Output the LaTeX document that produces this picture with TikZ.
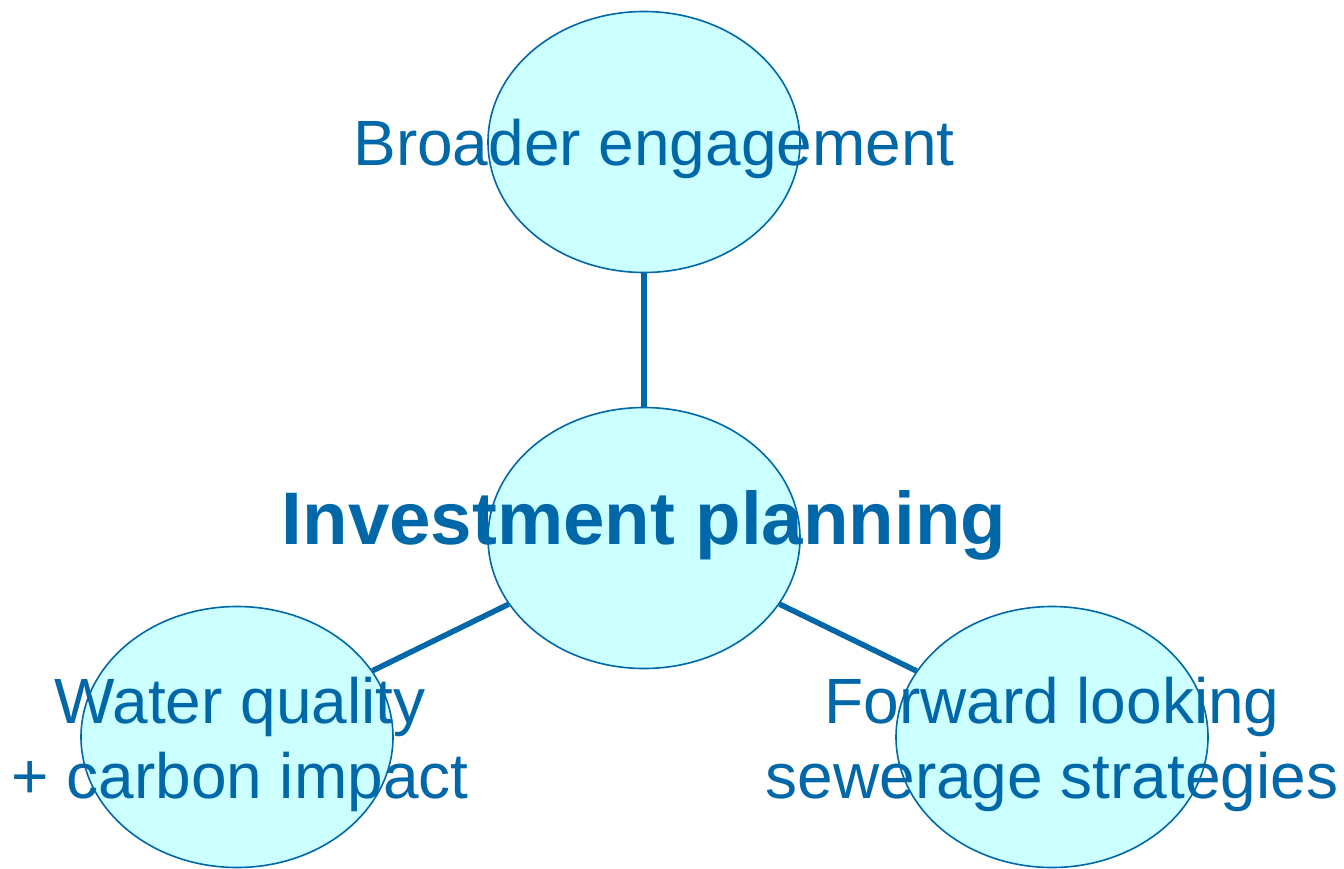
\documentclass[tikz,border=0pt]{standalone}
\usepackage{fontspec}
\setmainfont{Liberation Sans}
\usetikzlibrary{shapes.geometric}

\definecolor{planblue}{HTML}{0068A8}
\definecolor{bubblefill}{HTML}{CCFFFF}

\tikzset{
  bubble/.style={ellipse, draw=planblue, fill=bubblefill, line width=1.6pt,
    minimum width=312pt, minimum height=261pt, inner sep=0pt},
  label text/.style={text=planblue, inner sep=0pt, anchor=base, align=center,
    font=\fontsize{64}{75}\selectfont},
  link/.style={draw=planblue, line width=5.5pt}
}

\begin{document}
\begin{tikzpicture}[x=1pt, y=-1pt]
	\useasboundingbox (0,0) rectangle (1344,868);

	% ellipses
	\node[bubble] (broad) at (644,142) {};
	\node[bubble] (invest) at (644,538) {};
	\node[bubble] (water) at (237,737) {};
	\node[bubble] (sewer) at (1052,737) {};

	% connectors
	\draw[link] (broad) -- (invest);
	\draw[link] (invest) -- (water);
	\draw[link] (invest) -- (sewer);

	% texts
	\node[label text] (broadtxt) at (654,165) {Broader engagement};
	\node[label text, font=\fontsize{74.5}{86}\selectfont\bfseries] (investtxt) at (644,544) {Investment planning};
	\node[label text] (watertxt) at (240,798) {Water quality\\+ carbon impact};
	\node[label text] (sewertxt) at (1052,798) {Forward looking\\sewerage strategies};
\end{tikzpicture}
\end{document}
